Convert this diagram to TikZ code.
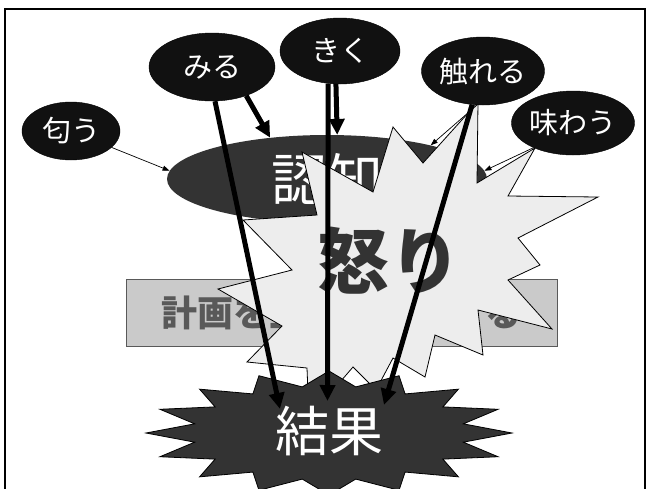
\documentclass[tikz,border=0pt]{standalone}
\usepackage{fontspec}
\setmainfont{Noto Sans CJK JP}
\usepackage{xcolor}
\usetikzlibrary{shapes.geometric,arrows.meta}
\definecolor{senseblack}{HTML}{111111}
\definecolor{darkgrey}{HTML}{333333}
\definecolor{angerfill}{HTML}{EDEDED}
\definecolor{planfill}{HTML}{CACACA}
\definecolor{plantext}{HTML}{595959}

\begin{document}
\begin{tikzpicture}[x=1pt,y=1pt]
\tikzstyle{every node}+=[inner sep=0pt]
\tikzstyle{sense}=[ellipse, draw=black, fill=senseblack, text=white, font=\fontsize{29}{29}\selectfont]
\tikzstyle{ninchibox}=[ellipse, fill=darkgrey, text=white, minimum width=320pt, minimum height=88pt, font=\fontsize{56}{56}\selectfont]
\tikzstyle{planbox}=[draw=plantext, fill=planfill, text=plantext, minimum width=431pt, minimum height=67pt, font=\fontsize{36}{36}\selectfont\bfseries]
\tikzstyle{angerburst}=[draw=black, fill=angerfill, line width=0.8pt, line join=miter]
\tikzstyle{resultburst}=[draw=black, fill=darkgrey, line width=0.8pt]
\tikzstyle{thickarrow}=[black, line width=5pt, -{Triangle[length=16pt,width=15pt]}]
\tikzstyle{thinarrow}=[black, line width=0.7pt, -{Triangle[length=7pt,width=5pt]}]
\clip (0,0) rectangle (650,-488);
\draw [black, line width=2pt] (5,-9) rectangle (645,-500);
\node [planbox] (plan) at (341.5,-312.5) {計画を立てて実行する};
\node [ninchibox] (ninchi) at (327,-179) {認知};
\draw [angerburst] (393,-127) -- (423,-163) -- (478,-102) -- (477,-183) -- (535,-148) -- (508,-196) -- (598,-197) -- (518,-238) -- (540,-265) -- (508,-280) -- (552,-329) -- (478,-310) -- (483,-355) -- (435,-335) -- (425,-377) -- (393,-358) -- (376,-390) -- (353,-367) -- (309,-418) -- (307,-368) -- (247,-362) -- (282,-326) -- (218,-289) -- (292,-270) -- (243,-220) -- (317,-215) -- (302,-152) -- (373,-192) -- cycle;
\node [text=darkgrey, font=\fontsize{72}{72}\selectfont\bfseries] (ikari) at (389,-261) {怒り};
\draw [resultburst] (512,-433) \foreach \a in {0,22.5,...,337.5} { -- ({329+137*cos(\a+11.25)},{-433+47*sin(\a+11.25)}) -- ({329+183*cos(\a+22.5)},{-433+62*sin(\a+22.5)}) } -- cycle;
\node [text=white, font=\fontsize{54}{54}\selectfont] (kekka) at (329,-431) {結果};
\node [sense, minimum width=98pt, minimum height=58pt] (ioi) at (71,-131) {匂う};
\node [sense, minimum width=126pt, minimum height=68pt] (miru) at (212,-67) {みる};
\node [sense, minimum width=120pt, minimum height=66pt] (kiku) at (340,-51) {きく};
\node [sense, minimum width=120pt, minimum height=68pt] (fureru) at (483,-71) {触れる};
\node [sense, minimum width=116pt, minimum height=64pt] (ajiwau) at (573,-123) {味わう};
\coordinate (kekka-a) at (280,-409);
\coordinate (kekka-b) at (327.5,-401);
\coordinate (kekka-c) at (384,-405);
\draw [thinarrow] (ioi.-22) -- (ninchi.177);
\draw [thinarrow] (fureru.-100) -- (ninchi.18);
\draw [thinarrow] (ajiwau.-148) -- (ninchi.3);
\draw [thickarrow] (miru.-40) -- (ninchi.144);
\draw [thickarrow] (kiku.-97) -- (ninchi.77.5);
\draw [thickarrow] (miru.-85) -- (kekka-a);
\draw [thickarrow] (kiku.-110) -- (kekka-b);
\draw [thickarrow] (fureru.-108) -- (kekka-c);
\end{tikzpicture}
\end{document}
